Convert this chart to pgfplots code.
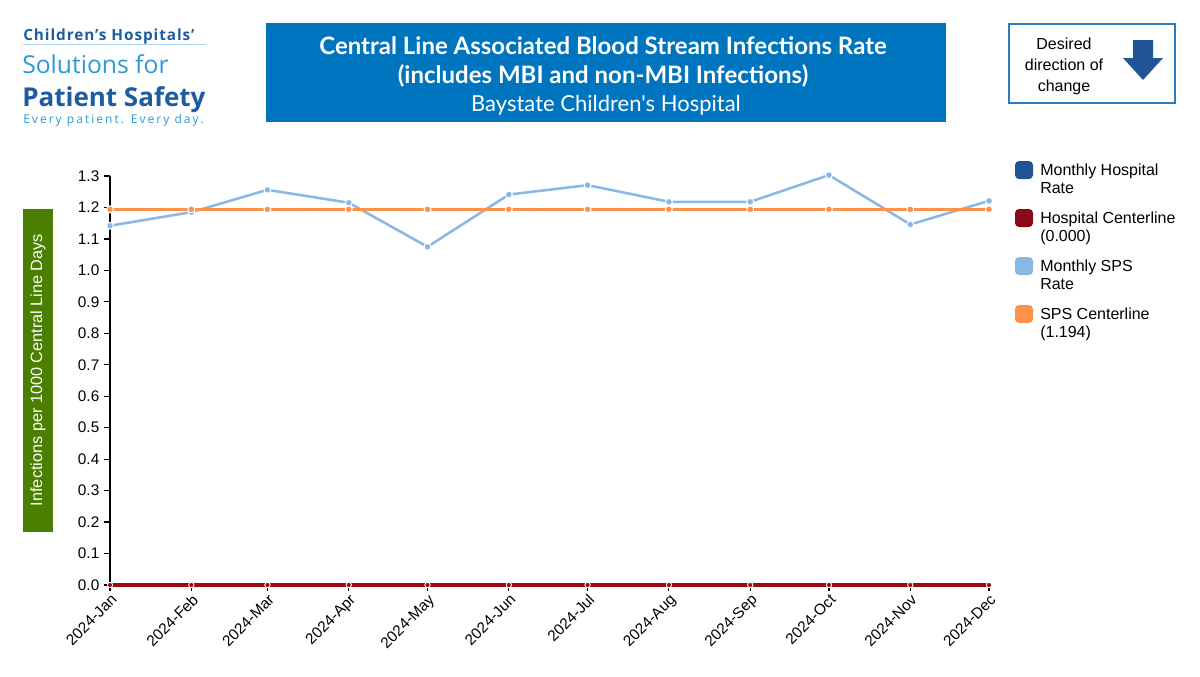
\documentclass[border=0pt]{standalone}
\usepackage{fontspec}
\setmainfont{Liberation Sans}
\newfontfamily\titlefont{Lato}
\newfontfamily\logofont{Open Sans}
\usepackage{pgfplots}
\pgfplotsset{compat=1.18}

\definecolor{titleblue}{HTML}{0075BF}
\definecolor{labelgreen}{HTML}{4A7F00}
\definecolor{hospblue}{HTML}{1F5596}
\definecolor{hospred}{HTML}{8B0A1A}
\definecolor{spsblue}{HTML}{89B8E7}
\definecolor{spsorange}{HTML}{FF9249}
\definecolor{boxblue}{HTML}{2A7BC0}
\definecolor{logodark}{HTML}{1D5CA0}
\definecolor{logolight}{HTML}{2A9AD8}

\newcommand\fs[1]{\fontsize{#1}{1.2\dimexpr#1\relax}\selectfont}

% days from 1 Jan 2024 to the first of each month
\pgfplotstableread{
x    hosp  hospcl  sps    spscl
0    0     0       1.142  1.194
31   0     0       1.185  1.194
60   0     0       1.256  1.194
91   0     0       1.215  1.194
121  0     0       1.075  1.194
152  0     0       1.241  1.194
182  0     0       1.271  1.194
213  0     0       1.218  1.194
244  0     0       1.218  1.194
274  0     0       1.303  1.194
305  0     0       1.146  1.194
335  0     0       1.221  1.194
}\rates

\begin{document}
\begin{tikzpicture}
\begin{scope}[x=0.75pt,y=-0.75pt]
\path[fill=white,use as bounding box] (0,0) rectangle (1200,676);

% logo
\node[anchor=base west,inner sep=0,text=logodark] at (23,40) {\logofont\bfseries\fs{11.5pt}\addfontfeature{LetterSpace=6}Children’s Hospitals’};
\draw[logolight!40,line width=0.6pt] (23,44.5) -- (206,44.5);
\node[anchor=base west,inner sep=0,text=logolight] at (22,73) {\logofont\fs{18.5pt}Solutions for};
\node[anchor=base west,inner sep=0,text=logodark] at (22,106) {\logofont\bfseries\fs{19.5pt}Patient Safety};
\node[anchor=base west,inner sep=0,text=logolight] at (23,123) {\logofont\fs{9pt}\addfontfeature{LetterSpace=17}Every patient. Every day.};

% title box
\fill[titleblue] (266,23) rectangle (946,122);
\node[text=white,anchor=base] at (603,54) {\titlefont\bfseries\fs{18pt}Central Line Associated Blood Stream Infections Rate};
\node[text=white,anchor=base] at (603,83) {\titlefont\bfseries\fs{18pt}(includes MBI and non-MBI Infections)};
\node[text=white,anchor=base] at (606,111) {\titlefont\fs{16.5pt}Baystate Children's Hospital};

% direction box
\draw[boxblue,line width=1pt] (1009,24) rectangle (1175,103);
\node[anchor=base,inner sep=0] at (1064,49) {\fs{12pt}Desired};
\node[anchor=base,inner sep=0] at (1064,70) {\fs{12pt}direction of};
\node[anchor=base,inner sep=0] at (1064,91) {\fs{12pt}change};
\fill[hospblue] (1133,40) -- (1153,40) -- (1153,58) -- (1163,58) -- (1143,80) -- (1123,58) -- (1133,58) -- cycle;

% y label box
\fill[labelgreen] (23,209) rectangle (53,532);
\node[rotate=90,text=white] at (38,370) {\fs{12.2pt}Infections per 1000 Central Line Days};

% legend
\foreach \c/\y/\a/\b in {hospblue/170/Monthly Hospital/Rate,
                         hospred/218/Hospital Centerline/(0.000),
                         spsblue/266/Monthly SPS/Rate,
                         spsorange/314/SPS Centerline/(1.194)}{
  \fill[\c,rounded corners=3pt] (1015,\y-9) rectangle (1033,\y+9);
  \node[anchor=base west,inner sep=0] at (1040,\y+5) {\fs{12pt}\a};
  \node[anchor=base west,inner sep=0] at (1040,\y+23) {\fs{12pt}\b};
}
\end{scope}

\begin{axis}[
  at={(82.5pt,-438.75pt)}, anchor=origin,
  scale only axis, width=659.25pt, height=306.75pt,
  xmin=0, xmax=335, ymin=0, ymax=1.3,
  clip=false,
  axis x line=bottom, axis y line=left,
  axis line style={-, black, line width=0.9pt},
  tick align=outside, major tick length=4.5pt,
  tick style={black, line width=0.9pt},
  xtick={0,31,60,91,121,152,182,213,244,274,305,335},
  xticklabels={2024-Jan,2024-Feb,2024-Mar,2024-Apr,2024-May,2024-Jun,2024-Jul,2024-Aug,2024-Sep,2024-Oct,2024-Nov,2024-Dec},
  xticklabel style={rotate=45, anchor=north east, font=\fs{11.5pt}, inner sep=1pt},
  ytick={0,0.1,0.2,0.3,0.4,0.5,0.6,0.7,0.8,0.9,1.0,1.1,1.2,1.3},
  yticklabel style={font=\fs{11.5pt}, /pgf/number format/.cd, fixed, fixed zerofill, precision=1, assume math mode=true},
]
\addplot[hospblue, line width=2.25pt, mark=*, mark size=1.8pt, mark options={draw=white, line width=0.6pt, fill=hospblue}] table[x=x,y=hosp] {\rates};
\addplot[gray!60, line width=3.3pt] table[x=x,y=hospcl] {\rates};
\addplot[hospred!85!red, line width=2.4pt, mark=*, mark size=2pt, mark options={draw=white, line width=0.6pt, fill=hospred!85!red}] table[x=x,y=hospcl] {\rates};
\addplot[spsblue, line width=1.9pt, mark=*, mark size=2.6pt, mark options={draw=white, line width=0.75pt, fill=spsblue}] table[x=x,y=sps] {\rates};
\addplot[spsorange, line width=1.9pt, mark=*, mark size=2.6pt, mark options={draw=white, line width=0.75pt, fill=spsorange}] table[x=x,y=spscl] {\rates};
\end{axis}
\end{tikzpicture}
\end{document}
